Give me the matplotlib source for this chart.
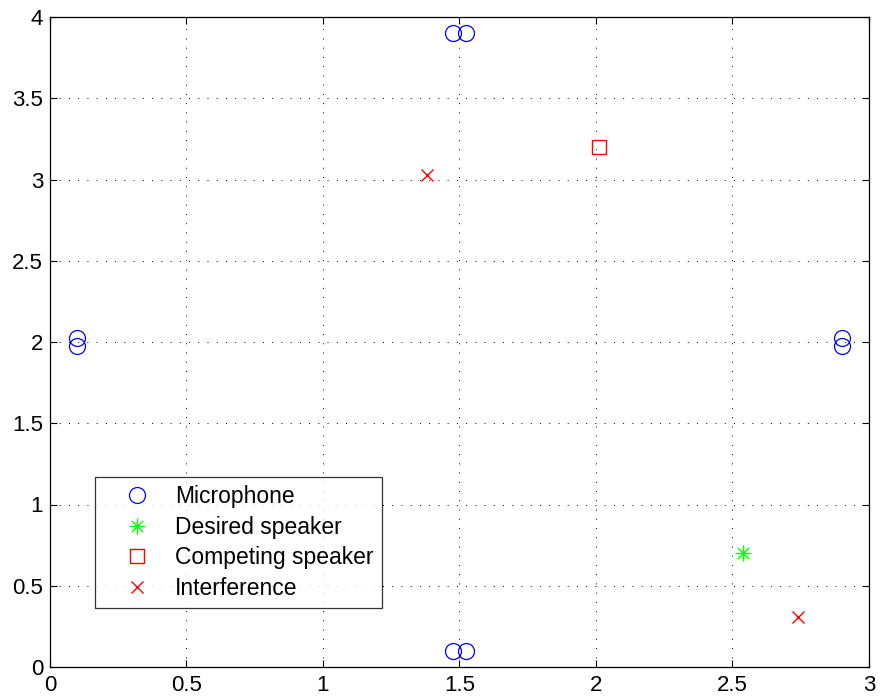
import numpy as np
import matplotlib
matplotlib.use('Agg')
import matplotlib.pyplot as plt
from matplotlib.path import Path

plt.rcParams['font.family'] = ['Liberation Sans', 'DejaVu Sans']

# microphone pairs
mic_x = [1.475, 1.525, 1.475, 1.525, 0.1, 0.1, 2.9, 2.9]
mic_y = [3.9, 3.9, 0.1, 0.1, 1.975, 2.025, 1.975, 2.025]

desired_x = [2.54]
desired_y = [0.70]

competing_x = [2.01]
competing_y = [3.2]

interf_x = [1.38, 2.74]
interf_y = [3.025, 0.305]

labels = ['Microphone', 'Desired speaker', 'Competing speaker', 'Interference']

# matlab-like asterisk: 4 strokes through the centre
d = np.sqrt(0.5)
star_verts = [(-1, 0), (1, 0), (0, -1), (0, 1), (-d, -d), (d, d), (-d, d), (d, -d)]
star_codes = [Path.MOVETO, Path.LINETO] * 4
asterisk = Path(star_verts, star_codes)

fig = plt.figure(figsize=(8.81, 6.98), dpi=100)
ax = fig.add_axes([50 / 881, 31 / 698, 819 / 881, 650 / 698])

ax.plot(mic_x, mic_y, 'o', mfc='none', mec='#0000ff', ms=11.5, mew=0.9, label=labels[0])
ax.plot(desired_x, desired_y, ls='none', marker=asterisk, mfc='none', mec='#00ff00',
        ms=11.5, mew=1.0, label=labels[1])
ax.plot(competing_x, competing_y, 's', mfc='none', mec='#ff0000', ms=9.5, mew=1.0, label=labels[2])
ax.plot(interf_x, interf_y, 'x', color='#ff0000', ms=9, mew=1.0, label=labels[3])

ax.set_xlim(0, 3)
ax.set_ylim(0, 4)
ax.set_xticks(np.arange(0, 3.01, 0.5))
ax.set_yticks(np.arange(0, 4.01, 0.5))
ax.set_xticklabels(['0', '0.5', '1', '1.5', '2', '2.5', '3'])
ax.set_yticklabels(['0', '0.5', '1', '1.5', '2', '2.5', '3', '3.5', '4'])
ax.grid(True, color='black', linestyle=(0, (1, 8.5)), linewidth=0.7)
ax.tick_params(direction='in', top=True, right=True, labelsize=16, length=5, width=0.8)
ax.tick_params(axis='x', pad=6)
ax.tick_params(axis='y', pad=5)
for s in ax.spines.values():
    s.set_linewidth(0.9)

leg = ax.legend(loc='lower left', bbox_to_anchor=(0.055, 0.091), fontsize=16.5,
                frameon=True, fancybox=False, edgecolor='black', borderpad=0.35,
                labelspacing=0.33, handlelength=3.0, handletextpad=0.15, borderaxespad=0)
leg.get_frame().set_linewidth(0.9)

fig.savefig('out.png', dpi=100)
